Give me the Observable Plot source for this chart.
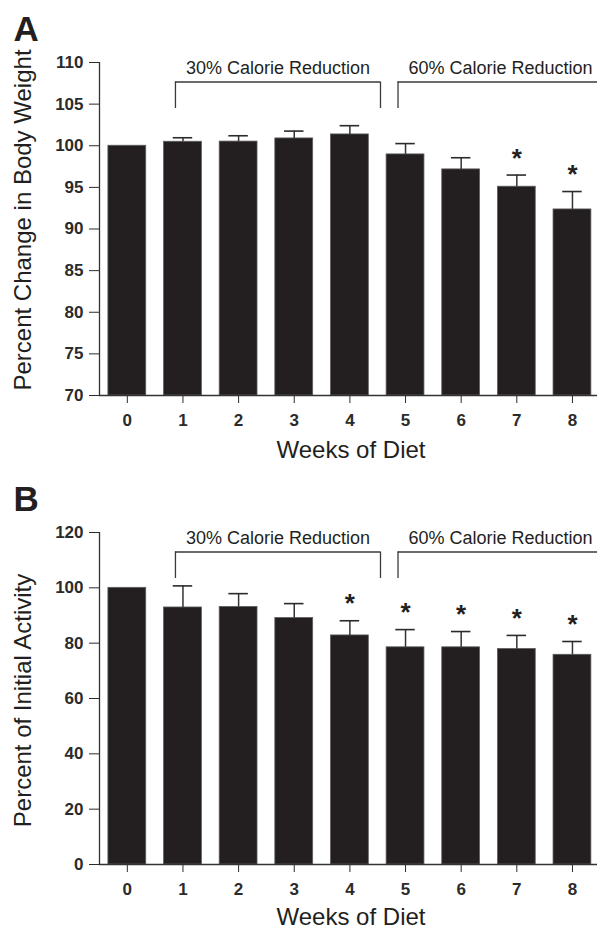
<!DOCTYPE html>
<html><head><meta charset="utf-8">
<script src="https://cdn.jsdelivr.net/npm/d3@7"></script>
<script src="https://cdn.jsdelivr.net/npm/@observablehq/plot@0.6"></script>
<style>
body{margin:0;background:#fff;}
#chart{width:597px;}
#chart svg{display:block;}
</style></head><body><div id="chart"></div>
<script>
// ---- data ----
const weeks = [0, 1, 2, 3, 4, 5, 6, 7, 8];
const weightMean = [100, 100.48, 100.5, 100.88, 101.36, 98.96, 97.16, 95.08, 92.35];
const weightSem  = [0, 0.48, 0.7, 0.88, 1.05, 1.3, 1.4, 1.4, 2.15];
const weightSig  = [false, false, false, false, false, false, false, true, true];
const activityMean = [100, 92.9, 93.1, 89.1, 82.8, 78.5, 78.5, 77.9, 75.8];
const activitySem  = [0, 7.8, 4.8, 5.2, 5.3, 6.4, 5.7, 4.9, 4.8];
const activitySig  = [false, false, false, false, true, true, true, true, true];
const weightTicks = [70, 75, 80, 85, 90, 95, 100, 105, 110];
const activityTicks = [0, 20, 40, 60, 80, 100, 120];
const phaseLabels = ["30% Calorie Reduction", "60% Calorie Reduction"];
const phaseFirstWeek = [1, 5];
const phaseLastWeek = [4, 8];
const panelLetters = ["A", "B"];
const xLabel = "Weeks of Diet";
const yLabels = ["Percent Change in Body Weight", "Percent of Initial Activity"];

const FONT = "'Liberation Sans', Arial, Helvetica, sans-serif";
const INK = "#231f20";

function panel({letter, mean, sem, sig, yDomain, yTicks, yLabel, height, marginTop, marginBottom, yLabelDy, xLabelDy}) {
  const data = weeks.map((w, i) => ({week: w, mean: mean[i], sem: sem[i], sig: sig[i]}));
  const withErr = data.filter(d => d.sem > 0);
  const marginLeft = 99;
  const plotH = height - marginTop - marginBottom;
  const py = px => yDomain[1] - (yDomain[1] - yDomain[0]) * px / plotH; // pixels below frame top -> data value
  const halfBar = 0.34, halfCap = 0.175;
  const brackets = phaseLabels.map((label, i) => ({label, x1: phaseFirstWeek[i] - 0.135, x2: phaseLastWeek[i] + 0.55}));
  const bracketEnds = brackets.flatMap(b => [b.x1, b.x2]);
  return Plot.plot({
    width: 597, height, marginTop, marginBottom, marginLeft, marginRight: 0,
    style: {fontFamily: FONT, fontSize: "17px", fontWeight: "bold", background: "white", color: "#2b2b2b"},
    x: {domain: [-0.5, 8.45], ticks: weeks, tickSize: 8, tickPadding: 10, label: null},
    y: {domain: yDomain, ticks: yTicks, tickSize: 10, tickPadding: 6, label: null},
    marks: [
      Plot.rectY(data, {x1: d => d.week - halfBar, x2: d => d.week + halfBar, y1: yDomain[0], y2: "mean",
        fill: INK, stroke: "#5e5e5e", strokeWidth: 0.8}),
      Plot.ruleX(withErr, {x: "week", y1: "mean", y2: d => d.mean + d.sem, stroke: "#333", strokeWidth: 1.5}),
      Plot.ruleY(withErr, {y: d => d.mean + d.sem, x1: d => d.week - halfCap, x2: d => d.week + halfCap, stroke: "#2b2b2b", strokeWidth: 1.6}),
      Plot.text(data.filter(d => d.sig), {x: "week", y: d => d.mean + d.sem, text: () => "*", dy: -8.5,
        lineAnchor: "bottom", fontSize: 26, fontWeight: "bold", fill: INK}),
      // phase brackets
      Plot.ruleY(brackets, {y: py(19.5), x1: "x1", x2: "x2", stroke: "#3a3a3a", strokeWidth: 1.3}),
      Plot.ruleX(bracketEnds, {x: d => d, y1: py(19.5), y2: py(46), stroke: "#3a3a3a", strokeWidth: 1.3}),
      Plot.text(brackets, {x: d => (d.x1 + d.x2) / 2, y: py(11), text: "label", lineAnchor: "bottom",
        fontSize: 18, fontWeight: "normal", fill: INK}),
      // axis lines
      Plot.ruleX([-0.5], {y1: yDomain[0], y2: yDomain[1], stroke: "#333", strokeWidth: 1.3}),
      Plot.ruleY([yDomain[0]], {stroke: "#333", strokeWidth: 1.3}),
      // labels
      Plot.text([yLabel], {text: d => d, frameAnchor: "left", rotate: -90, dx: -69, dy: yLabelDy,
        textAnchor: "middle", lineAnchor: "bottom", fontSize: 24, fontWeight: "normal", fill: INK}),
      Plot.text([xLabel], {text: d => d, frameAnchor: "bottom", dx: 2.5, dy: xLabelDy,
        textAnchor: "middle", lineAnchor: "bottom", fontSize: 24, fontWeight: "normal", fill: INK}),
      Plot.text([letter], {text: d => d, frameAnchor: "top-left", dx: -86, dy: -22, textAnchor: "start",
        lineAnchor: "bottom", fontSize: 35, fontWeight: "bold", fill: INK})
    ]
  });
}

const chart = document.getElementById("chart");
chart.append(panel({letter: panelLetters[0], mean: weightMean, sem: weightSem, sig: weightSig,
  yDomain: [70, 110], yTicks: weightTicks, yLabel: yLabels[0], height: 466, marginTop: 62, marginBottom: 71, yLabelDy: -9, xLabelDy: 62}));
chart.append(panel({letter: panelLetters[1], mean: activityMean, sem: activitySem, sig: activitySig,
  yDomain: [0, 120], yTicks: activityTicks, yLabel: yLabels[1], height: 463, marginTop: 66, marginBottom: 65, yLabelDy: 2, xLabelDy: 60}));
</script></body></html>
